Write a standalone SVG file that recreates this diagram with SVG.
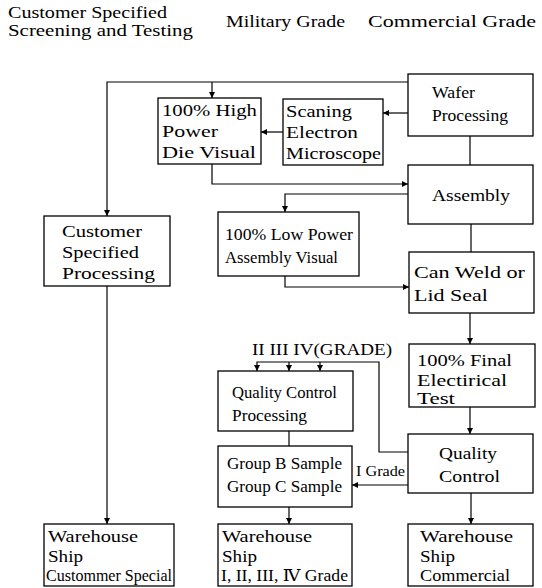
<svg xmlns="http://www.w3.org/2000/svg" width="542" height="588" viewBox="0 0 542 588">
<style>
text{font-family:"Liberation Serif","DejaVu Serif",serif;font-size:17px;fill:#000;}
.s{font-size:14px;}
.n{font-size:16px;}
.box{fill:#fff;stroke:#000;stroke-width:1.3;}
.c{fill:none;stroke:#000;stroke-width:1.2;}
</style>
<defs>
<marker id="a" markerUnits="userSpaceOnUse" markerWidth="8" markerHeight="8" refX="6" refY="3" orient="auto">
<path d="M0,0 L6,3 L0,6 z" fill="#000"/>
</marker>
</defs>
<rect width="542" height="588" fill="#fff"/>
<g id="headers">
<text class="n" x="8" y="18" textLength="159" lengthAdjust="spacingAndGlyphs">Customer Specified</text>
<text class="n" x="8" y="36" textLength="185" lengthAdjust="spacingAndGlyphs">Screening and Testing</text>
<text x="226" y="27" textLength="119" lengthAdjust="spacingAndGlyphs">Military Grade</text>
<text x="368" y="27" textLength="168" lengthAdjust="spacingAndGlyphs">Commercial Grade</text>
</g>
<g id="connectors">
<path class="c" d="M408,82 H107 V216" marker-end="url(#a)"/>
<path class="c" d="M212,82 V98" marker-end="url(#a)"/>
<path class="c" d="M408,113 H383" marker-end="url(#a)"/>
<path class="c" d="M283,132 H261" marker-end="url(#a)"/>
<path class="c" d="M212,164 V184 H408" marker-end="url(#a)"/>
<path class="c" d="M470,136 V165"/>
<path class="c" d="M408,194 H285 V212" marker-end="url(#a)"/>
<path class="c" d="M285,276 V287 H409" marker-end="url(#a)"/>
<path class="c" d="M471,224 V252"/>
<path class="c" d="M470,313 V344" marker-end="url(#a)"/>
<path class="c" d="M470,407 V434" marker-end="url(#a)"/>
<path class="c" d="M409,452 H379 V362 H257 V371" marker-end="url(#a)"/>
<path class="c" d="M289,362 V371" marker-end="url(#a)"/>
<path class="c" d="M320,362 V371" marker-end="url(#a)"/>
<path class="c" d="M289,431 V446"/>
<path class="c" d="M408,485 H352" marker-end="url(#a)"/>
<path class="c" d="M289,507 V524" marker-end="url(#a)"/>
<path class="c" d="M471,493 V524" marker-end="url(#a)"/>
<path class="c" d="M107,286 V524" marker-end="url(#a)"/>
</g>
<g id="wafer">
<rect class="box" x="408" y="74" width="125" height="62"/>
<text x="432" y="98" textLength="43" lengthAdjust="spacingAndGlyphs">Wafer</text>
<text x="432" y="121" textLength="76" lengthAdjust="spacingAndGlyphs">Processing</text>
</g>
<g id="sem">
<rect class="box" x="283" y="99" width="100" height="66"/>
<text x="286" y="117" textLength="66" lengthAdjust="spacingAndGlyphs">Scaning</text>
<text x="286" y="138" textLength="72" lengthAdjust="spacingAndGlyphs">Electron</text>
<text x="286" y="159" textLength="95" lengthAdjust="spacingAndGlyphs">Microscope</text>
</g>
<g id="highpower">
<rect class="box" x="158" y="98" width="103" height="66"/>
<text x="162" y="116" textLength="95" lengthAdjust="spacingAndGlyphs">100% High</text>
<text x="162" y="137" textLength="56" lengthAdjust="spacingAndGlyphs">Power</text>
<text x="162" y="158" textLength="94" lengthAdjust="spacingAndGlyphs">Die Visual</text>
</g>
<g id="assembly">
<rect class="box" x="408" y="165" width="125" height="59"/>
<text x="432" y="201" textLength="78" lengthAdjust="spacingAndGlyphs">Assembly</text>
</g>
<g id="custproc">
<rect class="box" x="44" y="216" width="126" height="70"/>
<text x="62" y="237" textLength="80" lengthAdjust="spacingAndGlyphs">Customer</text>
<text x="62" y="258" textLength="77" lengthAdjust="spacingAndGlyphs">Specified</text>
<text x="62" y="279" textLength="93" lengthAdjust="spacingAndGlyphs">Processing</text>
</g>
<g id="lowpower">
<rect class="box" x="218" y="212" width="141" height="64"/>
<text class="n" x="225" y="240" textLength="128" lengthAdjust="spacingAndGlyphs">100% Low Power</text>
<text class="n" x="225" y="263" textLength="113" lengthAdjust="spacingAndGlyphs">Assembly Visual</text>
</g>
<g id="canweld">
<rect class="box" x="409" y="252" width="125" height="61"/>
<text x="414" y="278" textLength="111" lengthAdjust="spacingAndGlyphs">Can Weld or</text>
<text x="414" y="301" textLength="74" lengthAdjust="spacingAndGlyphs">Lid Seal</text>
</g>
<g id="gradelabel">
<text class="n" x="252" y="355" textLength="140" lengthAdjust="spacingAndGlyphs">II III IV(GRADE)</text>
</g>
<g id="finaltest">
<rect class="box" x="409" y="344" width="126" height="63"/>
<text x="417" y="366" textLength="95" lengthAdjust="spacingAndGlyphs">100% Final</text>
<text x="417" y="386" textLength="90" lengthAdjust="spacingAndGlyphs">Electirical</text>
<text x="417" y="404" textLength="38" lengthAdjust="spacingAndGlyphs">Test</text>
</g>
<g id="qcproc">
<rect class="box" x="218" y="371" width="135" height="60"/>
<text class="n" x="232" y="398" textLength="105" lengthAdjust="spacingAndGlyphs">Quality Control</text>
<text class="n" x="232" y="421" textLength="75" lengthAdjust="spacingAndGlyphs">Processing</text>
</g>
<g id="qc">
<rect class="box" x="408" y="434" width="125" height="59"/>
<text x="439" y="459" textLength="58" lengthAdjust="spacingAndGlyphs">Quality</text>
<text x="439" y="482" textLength="61" lengthAdjust="spacingAndGlyphs">Control</text>
</g>
<g id="groupsample">
<rect class="box" x="218" y="446" width="134" height="61"/>
<text class="n" x="227" y="469" textLength="115" lengthAdjust="spacingAndGlyphs">Group B Sample</text>
<text class="n" x="227" y="492" textLength="115" lengthAdjust="spacingAndGlyphs">Group C Sample</text>
</g>
<g id="igrade">
<text class="s" x="356" y="476" textLength="49" lengthAdjust="spacingAndGlyphs">I Grade</text>
</g>
<g id="wh-customer">
<rect class="box" x="44" y="524" width="130" height="62"/>
<text x="48" y="542" textLength="90" lengthAdjust="spacingAndGlyphs">Warehouse</text>
<text x="48" y="562" textLength="35" lengthAdjust="spacingAndGlyphs">Ship</text>
<text class="n" x="46" y="581" textLength="126" lengthAdjust="spacingAndGlyphs">Custommer Special</text>
</g>
<g id="wh-military">
<rect class="box" x="218" y="524" width="134" height="62"/>
<text x="222" y="542" textLength="90" lengthAdjust="spacingAndGlyphs">Warehouse</text>
<text x="222" y="562" textLength="35" lengthAdjust="spacingAndGlyphs">Ship</text>
<text class="n" x="221" y="581" textLength="127" lengthAdjust="spacingAndGlyphs">I, II, III, Ⅳ Grade</text>
</g>
<g id="wh-commercial">
<rect class="box" x="408" y="524" width="125" height="62"/>
<text x="420" y="542" textLength="93" lengthAdjust="spacingAndGlyphs">Warehouse</text>
<text x="420" y="562" textLength="35" lengthAdjust="spacingAndGlyphs">Ship</text>
<text x="420" y="581" textLength="90" lengthAdjust="spacingAndGlyphs">Commercial</text>
</g>
</svg>
